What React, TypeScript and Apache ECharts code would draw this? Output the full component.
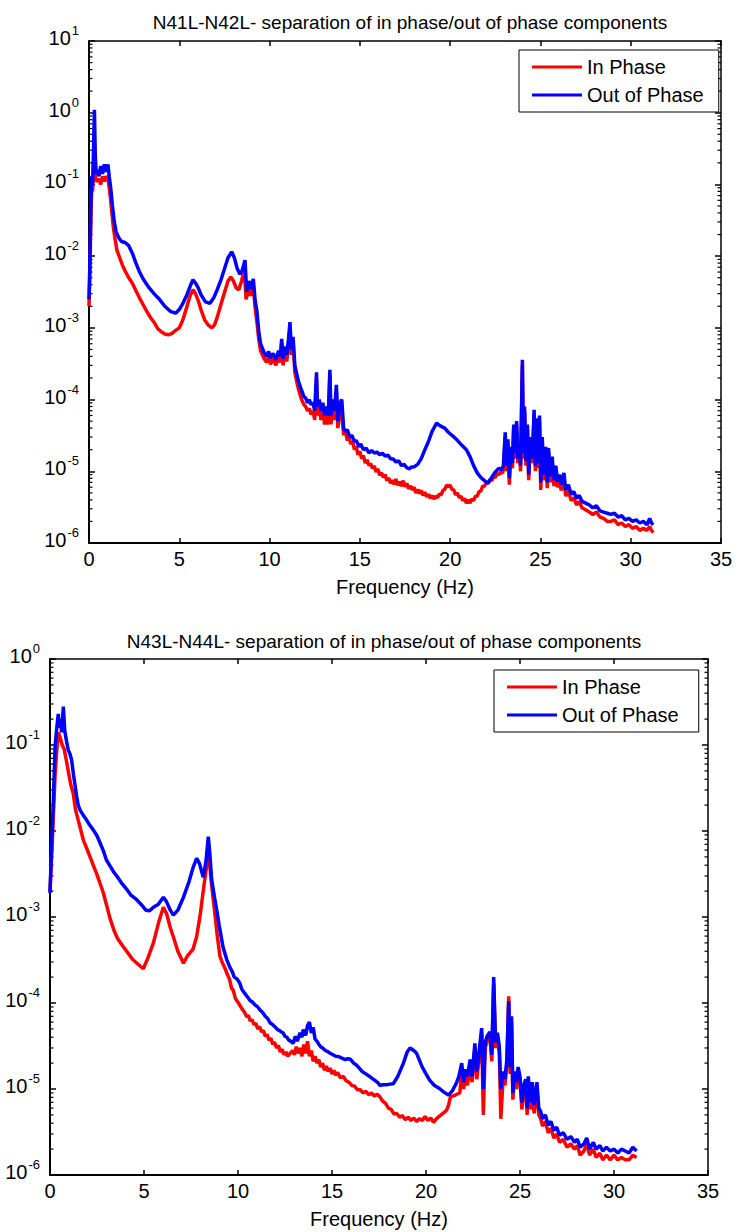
import React, { useEffect, useRef } from "react";
import * as echarts from "echarts";

const FONT = "'Liberation Sans', Arial, Helvetica, sans-serif";

const topTitle = "N41L-N42L- separation of in phase/out of phase components";
const bottomTitle = "N43L-N44L- separation of in phase/out of phase components";
const xAxisName = "Frequency (Hz)";
const seriesNames = ["In Phase", "Out of Phase"];
const seriesColors = ["#ff0000", "#0000ff"];
const xMin = 0;
const xMax = 35;
const xStep = 5;
const topYMin = 1e-6;
const topYMax = 1e1;
const bottomYMin = 1e-6;
const bottomYMax = 1e0;

// Top chart, In Phase (red): [frequency Hz, amplitude]
const topInPhase: [number, number][] = [
  [0.0, 2e-3], [0.05, 6e-3], [0.1, 0.03], [0.15, 0.09], [0.2, 0.08], [0.25, 0.2], [0.3, 0.3],
  [0.35, 0.12], [0.45, 0.11], [0.55, 0.12], [0.65, 0.1], [0.75, 0.13], [0.85, 0.11], [0.95, 0.13],
  [1.05, 0.12], [1.15, 0.08], [1.25, 0.045], [1.35, 0.025], [1.45, 0.017], [1.55, 0.012],
  [1.7, 0.0095], [1.85, 0.0075], [2.0, 0.0062], [2.2, 0.005], [2.4, 0.0042], [2.6, 0.0033],
  [2.8, 0.0026], [3.0, 0.0021], [3.2, 0.0017], [3.4, 0.0014], [3.6, 0.0012], [3.8, 0.00098],
  [4.0, 0.00088], [4.2, 0.00082], [4.4, 0.0008], [4.6, 0.00084], [4.8, 0.00092], [5.0, 0.001],
  [5.2, 0.0013], [5.4, 0.0019], [5.6, 0.0028], [5.76, 0.0034], [5.9, 0.003], [6.05, 0.0024],
  [6.2, 0.0018], [6.4, 0.0013], [6.6, 0.0011], [6.8, 0.001], [6.95, 0.0011], [7.1, 0.0014],
  [7.3, 0.0021], [7.5, 0.0031], [7.7, 0.0045], [7.85, 0.0051], [8.0, 0.0045], [8.15, 0.0036],
  [8.3, 0.0034], [8.45, 0.0045], [8.6, 0.0065], [8.7, 0.0025], [8.85, 0.0035], [8.95, 0.0028],
  [9.1, 0.0038], [9.2, 0.0019], [9.3, 0.0012], [9.4, 0.0007], [9.5, 0.00048], [9.6, 0.00042],
  [9.7, 0.00037], [9.84, 0.00033], [9.95, 0.0004], [10.05, 0.00031], [10.2, 0.00037],
  [10.35, 0.0003], [10.5, 0.0004], [10.6, 0.00033], [10.67, 0.00062], [10.75, 0.0003],
  [10.85, 0.00046], [10.95, 0.00034], [11.05, 0.0006], [11.13, 0.001], [11.2, 0.00042],
  [11.3, 0.00062], [11.4, 0.00024], [11.5, 0.00018], [11.6, 0.00014], [11.77, 0.0001],
  [11.9, 0.000085], [12.0, 0.00008], [12.1, 0.00007], [12.2, 0.000075], [12.3, 0.000062],
  [12.4, 0.00007], [12.5, 0.000052], [12.6, 0.0002], [12.65, 0.00006], [12.75, 0.000075],
  [12.85, 0.000052], [12.95, 0.00007], [13.05, 0.000045], [13.15, 0.00006], [13.25, 0.000045],
  [13.34, 0.00022], [13.4, 0.000045], [13.5, 0.00008], [13.6, 0.000052], [13.7, 0.00013],
  [13.78, 0.00004], [13.9, 0.000065], [14.0, 0.00007], [14.1, 0.000032], [14.2, 0.000036],
  [14.3, 0.000027], [14.4, 0.00003], [14.5, 0.000024], [14.6, 0.000026], [14.7, 0.00002],
  [14.8, 0.000022], [14.9, 0.000017], [15.0, 0.000019], [15.1, 0.000015], [15.2, 0.0000165],
  [15.3, 0.000013], [15.4, 0.0000145], [15.5, 0.000012], [15.6, 0.0000128], [15.7, 0.000011],
  [15.8, 0.0000118], [15.9, 0.0000098], [16.0, 0.0000108], [16.1, 0.0000088], [16.2, 0.0000095],
  [16.3, 0.0000082], [16.4, 0.000009], [16.5, 0.0000074], [16.6, 0.0000081], [16.7, 0.0000068],
  [16.8, 0.0000075], [16.9, 0.0000066], [17.0, 0.0000078], [17.1, 0.0000064], [17.2, 0.0000072],
  [17.3, 0.0000062], [17.4, 0.0000074], [17.5, 0.0000061], [17.6, 0.0000068], [17.7, 0.0000057],
  [17.8, 0.0000063], [17.9, 0.0000055], [18.0, 0.000006], [18.1, 0.000005], [18.2, 0.0000056],
  [18.3, 0.0000049], [18.4, 0.0000054], [18.5, 0.0000046], [18.6, 0.0000051], [18.7, 0.0000044],
  [18.8, 0.0000048], [18.9, 0.0000042], [19.0, 0.0000046], [19.1, 0.0000041], [19.2, 0.0000045],
  [19.3, 0.0000043], [19.4, 0.0000048], [19.5, 0.0000047], [19.6, 0.0000054], [19.7, 0.0000056],
  [19.8, 0.0000064], [19.9, 0.0000061], [20.0, 0.0000064], [20.1, 0.0000056], [20.2, 0.0000055],
  [20.3, 0.0000047], [20.4, 0.000005], [20.5, 0.0000043], [20.6, 0.0000045], [20.7, 0.0000039],
  [20.8, 0.0000042], [20.9, 0.0000036], [21.0, 0.000004], [21.1, 0.0000036], [21.2, 0.0000041],
  [21.3, 0.0000039], [21.4, 0.0000045], [21.5, 0.0000045], [21.6, 0.0000052], [21.7, 0.0000053],
  [21.8, 0.0000062], [21.9, 0.0000062], [22.0, 0.000007], [22.1, 0.0000068], [22.2, 0.0000077],
  [22.3, 0.0000074], [22.4, 0.0000084], [22.5, 0.0000082], [22.6, 0.0000092], [22.7, 0.000009],
  [22.8, 0.0000098], [22.9, 0.0000094], [22.95, 0.000011],
  [23.05, 0.00003], [23.12, 0.00001], [23.2, 0.000024], [23.28, 0.0000065], [23.36, 0.000019],
  [23.45, 0.000011], [23.52, 0.00004], [23.6, 0.000015], [23.68, 0.000044], [23.75, 0.000013],
  [23.83, 0.000021], [23.9, 0.00001], [24.0, 0.0003], [24.06, 0.000015], [24.12, 0.00007],
  [24.2, 0.000012], [24.28, 0.000039], [24.35, 0.0000075], [24.45, 0.000026], [24.55, 0.000013],
  [24.65, 0.000062], [24.72, 0.00001], [24.8, 0.000047], [24.87, 0.000011], [24.95, 0.00005],
  [25.02, 0.0000055], [25.1, 0.000026], [25.18, 0.0000075], [25.3, 0.000019], [25.38, 0.0000058],
  [25.45, 0.000018], [25.55, 0.000007], [25.65, 0.000013], [25.75, 0.0000062], [25.85, 0.00001],
  [25.95, 0.000006], [26.05, 0.0000075], [26.15, 0.0000054], [26.3, 0.000008], [26.4, 0.0000045],
  [26.55, 0.0000053], [26.7, 0.0000039], [26.85, 0.0000043], [27.0, 0.0000034], [27.15, 0.0000038],
  [27.3, 0.0000031], [27.5, 0.0000029], [27.7, 0.0000027], [27.9, 0.0000025], [28.1, 0.0000027],
  [28.3, 0.0000023], [28.5, 0.0000022], [28.7, 0.000002], [28.9, 0.000002], [29.1, 0.0000021],
  [29.3, 0.0000018], [29.5, 0.0000019], [29.7, 0.0000017], [29.9, 0.0000018], [30.1, 0.0000016],
  [30.3, 0.0000017], [30.5, 0.0000015], [30.7, 0.0000016], [30.9, 0.0000015], [31.05, 0.0000017],
  [31.15, 0.0000015], [31.25, 0.0000014],
];

// Top chart, Out of Phase (blue)
const topOutPhase: [number, number][] = [
  [0.0, 2.5e-3], [0.05, 8e-3], [0.1, 0.05], [0.15, 0.13], [0.2, 0.1], [0.25, 0.3], [0.3, 1.1],
  [0.35, 0.25], [0.4, 0.14], [0.45, 0.16], [0.55, 0.13], [0.65, 0.18], [0.75, 0.14], [0.85, 0.19],
  [0.95, 0.15], [1.05, 0.19], [1.12, 0.13], [1.2, 0.09], [1.3, 0.05], [1.4, 0.03], [1.5, 0.022],
  [1.65, 0.018], [1.8, 0.016], [2.0, 0.0155], [2.2, 0.014], [2.4, 0.011], [2.6, 0.008],
  [2.8, 0.006], [3.0, 0.0048], [3.3, 0.0037], [3.6, 0.003], [3.9, 0.0025], [4.2, 0.002],
  [4.5, 0.0017], [4.8, 0.0016], [5.0, 0.0018], [5.2, 0.0022], [5.4, 0.0028], [5.6, 0.0038],
  [5.76, 0.0047], [5.9, 0.0042], [6.05, 0.0036], [6.2, 0.0029], [6.45, 0.0023], [6.7, 0.0022],
  [6.9, 0.0026], [7.1, 0.0034], [7.3, 0.0046], [7.5, 0.0066], [7.7, 0.0095], [7.9, 0.0115],
  [8.05, 0.0095], [8.2, 0.0068], [8.36, 0.0056], [8.5, 0.0065], [8.64, 0.0088], [8.73, 0.0032],
  [8.85, 0.0045], [8.95, 0.0035], [9.1, 0.0048], [9.2, 0.0024], [9.3, 0.0017], [9.4, 0.0009],
  [9.5, 0.0006], [9.6, 0.00052], [9.7, 0.00045], [9.84, 0.0004], [9.95, 0.00047], [10.05, 0.00038],
  [10.2, 0.00044], [10.35, 0.00036], [10.5, 0.00048], [10.6, 0.0004], [10.67, 0.0007],
  [10.75, 0.00037], [10.85, 0.00055], [10.95, 0.00042], [11.05, 0.0007], [11.13, 0.0012],
  [11.2, 0.0005], [11.3, 0.00075], [11.4, 0.0003], [11.5, 0.00023], [11.6, 0.00018],
  [11.77, 0.000135], [11.9, 0.00011], [12.0, 0.000105], [12.1, 0.00009], [12.2, 0.0001],
  [12.3, 0.000085], [12.4, 0.00009], [12.5, 0.00007], [12.6, 0.00024], [12.65, 0.00008],
  [12.75, 0.0001], [12.85, 0.00007], [12.95, 0.00009], [13.05, 0.00006], [13.15, 0.00008],
  [13.25, 0.00006], [13.34, 0.00026], [13.4, 0.00006], [13.5, 0.0001], [13.6, 0.00007],
  [13.7, 0.00016], [13.78, 0.00005], [13.9, 0.00009], [14.0, 0.0001], [14.1, 0.00004],
  [14.2, 0.000036], [14.3, 0.000038], [14.45, 0.00003], [14.55, 0.000032], [14.7, 0.000026],
  [14.8, 0.000027], [14.95, 0.000022], [15.05, 0.000024], [15.2, 0.00002], [15.35, 0.000021],
  [15.5, 0.000018], [15.65, 0.0000195], [15.8, 0.000018], [15.95, 0.0000185], [16.1, 0.000017],
  [16.25, 0.0000178], [16.4, 0.0000163], [16.55, 0.0000168], [16.7, 0.000015], [16.85, 0.0000148],
  [17.0, 0.0000135], [17.15, 0.000014], [17.3, 0.000012], [17.45, 0.0000125], [17.6, 0.0000112],
  [17.75, 0.0000108], [17.85, 0.0000115],
  [18.0, 0.0000115], [18.2, 0.0000125], [18.4, 0.000015], [18.6, 0.00002], [18.8, 0.000026],
  [19.0, 0.000036], [19.25, 0.000047], [19.45, 0.000043], [19.7, 0.00004], [19.9, 0.000035],
  [20.15, 0.000031], [20.4, 0.000027], [20.65, 0.000023], [20.9, 0.00002], [21.1, 0.000016],
  [21.3, 0.000012], [21.5, 0.0000095], [21.7, 0.0000082], [21.9, 0.0000074], [22.1, 0.0000068],
  [22.3, 0.0000082], [22.5, 0.0000098], [22.7, 0.000011], [22.85, 0.0000105], [22.95, 0.000012],
  [23.05, 0.000035], [23.12, 0.000012], [23.2, 0.000028], [23.28, 0.000008], [23.36, 0.000022],
  [23.45, 0.000013], [23.52, 0.000045], [23.6, 0.000018], [23.68, 0.00005], [23.75, 0.000015],
  [23.83, 0.000025], [23.9, 0.000012], [24.0, 0.00036], [24.06, 0.000018], [24.12, 0.00008],
  [24.2, 0.000014], [24.28, 0.000045], [24.35, 0.000009], [24.45, 0.00003], [24.55, 0.000015],
  [24.65, 0.000072], [24.72, 0.000012], [24.8, 0.000055], [24.87, 0.000013], [24.95, 0.00006],
  [25.02, 0.000007], [25.1, 0.00003], [25.18, 0.000009], [25.3, 0.000022], [25.38, 0.000007],
  [25.45, 0.000021], [25.55, 0.0000085], [25.65, 0.000016], [25.75, 0.0000075], [25.85, 0.000012],
  [25.95, 0.0000072], [26.05, 0.000009], [26.15, 0.0000065], [26.3, 0.0000095], [26.4, 0.0000055],
  [26.55, 0.0000065], [26.7, 0.0000048], [26.85, 0.0000052], [27.0, 0.0000042], [27.15, 0.0000046],
  [27.3, 0.0000038], [27.5, 0.0000036], [27.7, 0.0000034], [27.9, 0.0000031], [28.1, 0.0000033],
  [28.3, 0.0000028], [28.5, 0.0000027], [28.7, 0.0000026], [28.9, 0.0000025], [29.1, 0.0000026],
  [29.3, 0.0000023], [29.5, 0.0000024], [29.7, 0.0000021], [29.9, 0.0000022], [30.1, 0.000002],
  [30.3, 0.0000021], [30.5, 0.0000019], [30.7, 0.000002], [30.9, 0.0000018], [31.05, 0.0000022],
  [31.15, 0.0000019], [31.25, 0.0000018],
];

// Bottom chart, In Phase (red)
const bottomInPhase: [number, number][] = [
  [0.0, 2e-3], [0.1, 0.006], [0.18, 0.015], [0.27, 0.045], [0.35, 0.08], [0.44, 0.14],
  [0.55, 0.12], [0.65, 0.1], [0.75, 0.09], [0.85, 0.07], [0.97, 0.05], [1.1, 0.035],
  [1.24, 0.027], [1.35, 0.018], [1.5, 0.0134], [1.65, 0.01], [1.77, 0.0079], [1.95, 0.0063],
  [2.13, 0.005], [2.3, 0.004], [2.48, 0.0032], [2.65, 0.0025], [2.84, 0.0019], [3.0, 0.0014],
  [3.2, 0.00095], [3.4, 0.0007], [3.6, 0.00056], [3.9, 0.00045], [4.15, 0.00038], [4.4, 0.00032],
  [4.7, 0.00028], [4.96, 0.00025], [5.2, 0.00033], [5.5, 0.0005], [5.8, 0.0009], [6.03, 0.0013],
  [6.2, 0.0011], [6.4, 0.00075], [6.56, 0.00059], [6.8, 0.0004], [7.1, 0.00029], [7.3, 0.00035],
  [7.6, 0.00042], [7.8, 0.00059], [8.0, 0.0011], [8.15, 0.002], [8.33, 0.0039], [8.42, 0.0065],
  [8.5, 0.004], [8.6, 0.0023], [8.75, 0.0012], [8.9, 0.0006], [9.04, 0.00035], [9.15, 0.0003],
  [9.25, 0.00027], [9.35, 0.00024], [9.45, 0.00021], [9.55, 0.00019], [9.65, 0.00015],
  [9.75, 0.00014], [9.85, 0.000115], [9.93, 0.000107], [10.05, 0.000098], [10.15, 0.00009],
  [10.25, 0.000083], [10.35, 0.000078], [10.46, 0.000069], [10.55, 0.000072], [10.65, 0.000062],
  [10.75, 0.000064], [10.85, 0.000056], [10.95, 0.000058], [11.05, 0.00005], [11.15, 0.000053],
  [11.25, 0.000046], [11.35, 0.000048], [11.45, 0.000041], [11.55, 0.000043], [11.65, 0.000037],
  [11.75, 0.000039], [11.85, 0.000033], [11.95, 0.000035], [12.05, 0.00003], [12.15, 0.000032],
  [12.25, 0.000027], [12.35, 0.000029], [12.45, 0.000025], [12.55, 0.000027], [12.65, 0.000024],
  [12.77, 0.000026], [12.9, 0.000028], [13.0, 0.000025], [13.1, 0.000031], [13.2, 0.000026],
  [13.3, 0.00003], [13.4, 0.000024], [13.5, 0.000033], [13.6, 0.000026], [13.7, 0.000036],
  [13.8, 0.000024], [13.9, 0.000028], [14.0, 0.000021], [14.1, 0.000024], [14.2, 0.00002],
  [14.3, 0.000022], [14.4, 0.000018], [14.5, 0.00002], [14.6, 0.0000165], [14.7, 0.0000185],
  [14.8, 0.000016], [14.9, 0.0000175], [15.0, 0.000015], [15.1, 0.0000165], [15.2, 0.0000145],
  [15.3, 0.0000155], [15.45, 0.0000135], [15.6, 0.000014], [15.75, 0.0000125], [15.9, 0.000012],
  [16.05, 0.000011], [16.2, 0.0000108], [16.35, 0.0000098], [16.5, 0.0000098], [16.65, 0.000009],
  [16.8, 0.0000094], [16.95, 0.0000086], [17.1, 0.000009], [17.25, 0.0000083], [17.4, 0.0000087],
  [17.55, 0.0000081], [17.7, 0.0000072], [17.85, 0.0000068], [18.0, 0.000006], [18.15, 0.0000058],
  [18.3, 0.0000051], [18.45, 0.0000052], [18.6, 0.0000047], [18.75, 0.0000049], [18.9, 0.0000044],
  [19.05, 0.0000047], [19.2, 0.0000043], [19.35, 0.0000046], [19.5, 0.0000042], [19.65, 0.0000045],
  [19.8, 0.0000043], [19.95, 0.0000048], [20.1, 0.0000043], [20.25, 0.0000046], [20.4, 0.0000041],
  [20.55, 0.0000045], [20.7, 0.0000048], [20.85, 0.0000051], [20.95, 0.0000053], [21.1, 0.0000057],
  [21.2, 0.0000065], [21.3, 0.0000081], [21.45, 0.0000083], [21.55, 0.0000085], [21.7, 0.0000088],
  [21.8, 0.000009], [21.9, 0.000016],
  [22.0, 0.00001], [22.1, 0.000014], [22.2, 0.000011], [22.35, 0.000019], [22.45, 0.000012],
  [22.6, 0.00003], [22.7, 0.000013], [22.8, 0.00002], [22.96, 0.000045], [23.05, 0.000005],
  [23.15, 0.00003], [23.25, 0.000036], [23.4, 0.00004], [23.5, 0.000021], [23.6, 0.00017],
  [23.7, 0.00003], [23.8, 0.000038], [23.9, 0.000026], [23.98, 0.0000045], [24.1, 0.000013],
  [24.2, 0.000011], [24.3, 0.000019], [24.4, 0.00012], [24.48, 0.000015], [24.55, 0.00006],
  [24.62, 0.0000075], [24.7, 0.000013], [24.8, 0.00001], [24.9, 0.000015], [25.0, 0.000012],
  [25.1, 0.0000058], [25.2, 0.0000092], [25.3, 0.000011], [25.38, 0.000005], [25.44, 0.000012],
  [25.55, 0.0000058], [25.65, 0.00001], [25.75, 0.0000052], [25.9, 0.00001], [26.0, 0.000005],
  [26.1, 0.0000045], [26.2, 0.0000037], [26.35, 0.0000042], [26.5, 0.0000031], [26.65, 0.0000035],
  [26.8, 0.0000027], [26.95, 0.000003], [27.1, 0.0000024], [27.3, 0.0000026], [27.5, 0.0000021],
  [27.7, 0.0000023], [27.9, 0.000002], [28.05, 0.0000022], [28.2, 0.0000017], [28.4, 0.0000019],
  [28.55, 0.0000023], [28.7, 0.0000017], [28.9, 0.000002], [29.05, 0.0000016], [29.25, 0.0000018],
  [29.4, 0.0000015], [29.6, 0.0000017], [29.8, 0.0000015], [30.0, 0.0000017], [30.2, 0.0000015],
  [30.4, 0.0000016], [30.6, 0.0000015], [30.8, 0.0000015], [31.0, 0.0000017], [31.2, 0.0000016],
];

// Bottom chart, Out of Phase (blue)
const bottomOutPhase: [number, number][] = [
  [0.0, 1.9e-3], [0.1, 0.008], [0.18, 0.023], [0.27, 0.095], [0.35, 0.15], [0.44, 0.23],
  [0.5, 0.16], [0.55, 0.2], [0.62, 0.14], [0.71, 0.28], [0.78, 0.15], [0.85, 0.12], [0.97, 0.087],
  [1.05, 0.08], [1.15, 0.067], [1.25, 0.045], [1.35, 0.032], [1.42, 0.025], [1.5, 0.02],
  [1.6, 0.0175], [1.75, 0.0155], [1.95, 0.0134], [2.1, 0.0118], [2.3, 0.0103], [2.5, 0.0088],
  [2.66, 0.0073], [2.85, 0.0058], [3.0, 0.0046], [3.2, 0.0039], [3.4, 0.0033], [3.55, 0.003],
  [3.8, 0.0025], [4.08, 0.0021], [4.3, 0.0018], [4.6, 0.0016], [4.85, 0.0014], [5.1, 0.0012],
  [5.3, 0.00118], [5.5, 0.0013], [5.75, 0.0014], [6.03, 0.0017], [6.2, 0.0015], [6.4, 0.0012],
  [6.56, 0.00105], [6.8, 0.0012], [7.1, 0.0017], [7.4, 0.0026], [7.6, 0.0037], [7.8, 0.0048],
  [7.95, 0.0042], [8.15, 0.0029], [8.3, 0.0045], [8.42, 0.0086], [8.5, 0.0055], [8.6, 0.0027],
  [8.75, 0.0017], [8.87, 0.0012], [9.0, 0.0008], [9.2, 0.00045], [9.4, 0.00032], [9.57, 0.00026],
  [9.7, 0.00023], [9.8, 0.0002], [9.95, 0.00019], [10.1, 0.00017], [10.2, 0.000145],
  [10.35, 0.00013], [10.5, 0.000118], [10.64, 0.000107], [10.78, 0.000102], [10.9, 0.000095],
  [11.05, 0.00009], [11.17, 0.000083], [11.3, 0.000078], [11.45, 0.00007], [11.58, 0.000066],
  [11.7, 0.000059], [11.85, 0.000056], [12.0, 0.000052], [12.1, 0.000049], [12.2, 0.000048],
  [12.3, 0.000046], [12.4, 0.000045], [12.5, 0.000041], [12.6, 0.00004], [12.7, 0.000037],
  [12.8, 0.000036], [12.94, 0.000034], [13.05, 0.000041], [13.15, 0.000036], [13.3, 0.000045],
  [13.4, 0.00004], [13.47, 0.000049], [13.6, 0.000042], [13.7, 0.000055], [13.8, 0.00006],
  [13.9, 0.000045], [14.0, 0.000052], [14.1, 0.000038], [14.2, 0.000036], [14.3, 0.000033],
  [14.4, 0.000031], [14.5, 0.00003], [14.65, 0.000028], [14.8, 0.000027], [14.9, 0.000026],
  [15.05, 0.000025], [15.2, 0.000024], [15.35, 0.0000238], [15.5, 0.000023], [15.7, 0.000022],
  [15.85, 0.0000225], [16.0, 0.000022], [16.15, 0.00002], [16.3, 0.000019], [16.45, 0.0000175],
  [16.6, 0.000016], [16.8, 0.000015], [17.0, 0.000014], [17.15, 0.0000132], [17.3, 0.0000125],
  [17.45, 0.0000118], [17.55, 0.000011], [17.7, 0.0000112], [17.9, 0.0000112], [18.1, 0.0000114],
  [18.26, 0.0000115], [18.5, 0.000014], [18.8, 0.00002], [19.0, 0.000027], [19.15, 0.00003],
  [19.35, 0.000028], [19.5, 0.000026], [19.8, 0.000018], [20.0, 0.000015], [20.2, 0.0000126],
  [20.45, 0.000011], [20.7, 0.0000102], [20.95, 0.0000092], [21.2, 0.0000085], [21.4, 0.0000095],
  [21.6, 0.0000115], [21.75, 0.000014], [21.9, 0.00002], [22.0, 0.000012], [22.1, 0.000017],
  [22.2, 0.000014], [22.35, 0.000022], [22.45, 0.000014], [22.6, 0.000034], [22.7, 0.000016],
  [22.8, 0.000024], [22.96, 0.000051], [23.05, 0.00001], [23.15, 0.000035], [23.25, 0.000041],
  [23.4, 0.000046], [23.5, 0.000025], [23.6, 0.0002], [23.7, 0.000035], [23.8, 0.000045],
  [23.9, 0.000031], [23.98, 0.00001], [24.1, 0.000016], [24.2, 0.000013], [24.3, 0.000022],
  [24.4, 0.000105], [24.48, 0.000018], [24.55, 0.00007], [24.62, 0.000009], [24.7, 0.000016],
  [24.8, 0.000012], [24.9, 0.000018], [25.0, 0.000014], [25.1, 0.000007], [25.2, 0.000011],
  [25.3, 0.000013], [25.38, 0.000006], [25.44, 0.000014], [25.55, 0.000007], [25.65, 0.000012],
  [25.75, 0.0000065], [25.9, 0.000012], [26.0, 0.000006], [26.1, 0.0000055], [26.2, 0.0000045],
  [26.35, 0.000005], [26.5, 0.0000038], [26.65, 0.0000042], [26.8, 0.0000033], [26.95, 0.0000036],
  [27.1, 0.0000029], [27.3, 0.0000031], [27.5, 0.0000026], [27.7, 0.0000028], [27.9, 0.0000024],
  [28.05, 0.0000026], [28.2, 0.0000021], [28.4, 0.0000023], [28.55, 0.0000027], [28.7, 0.000002],
  [28.9, 0.0000024], [29.05, 0.000002], [29.25, 0.0000022], [29.4, 0.0000019], [29.6, 0.0000021],
  [29.8, 0.0000019], [30.0, 0.000002], [30.2, 0.0000018], [30.4, 0.000002], [30.6, 0.0000019],
  [30.8, 0.0000018], [31.0, 0.0000021], [31.2, 0.0000019],
];

const GRIDS = [
  { left: 89, top: 41, width: 632, height: 502 },
  { left: 50, top: 659, width: 658, height: 516 },
];

const FS = 20;
const labelText = { fontFamily: FONT, fontSize: FS, color: "#000" };

function yLabel(v: number) {
  const e = Math.round(Math.log10(v));
  return `{b|10}{s|${e}}`;
}

function buildPair(gi: number, yMin: number, yMax: number) {
  const xAxes = [
    {
      type: "value", gridIndex: gi, min: xMin, max: xMax, interval: xStep, position: "bottom",
      name: xAxisName, nameLocation: "middle", nameGap: 34,
      nameTextStyle: { ...labelText },
      axisLine: { show: true, onZero: false, lineStyle: { color: "#000", width: 2 } },
      axisTick: { show: true, inside: true, length: 5, lineStyle: { color: "#000", width: 1.5 } },
      axisLabel: { ...labelText, margin: 6 },
      splitLine: { show: false },
    },
    {
      type: "value", gridIndex: gi, min: xMin, max: xMax, interval: xStep, position: "top",
      axisLine: { show: true, onZero: false, lineStyle: { color: "#000", width: 1.5 } },
      axisTick: { show: true, inside: true, length: 5, lineStyle: { color: "#000", width: 1.5 } },
      axisLabel: { show: false },
      splitLine: { show: false },
    },
  ];
  const yAxes = [
    {
      type: "log", gridIndex: gi, min: yMin, max: yMax, logBase: 10, interval: 1, position: "left",
      axisLine: { show: true, onZero: false, lineStyle: { color: "#000", width: 2 } },
      axisTick: { show: true, inside: true, length: 6, lineStyle: { color: "#000", width: 1.5 } },
      axisLabel: {
        formatter: yLabel,
        margin: 10,
        padding: [0, 0, 10, 0],
        rich: {
          b: { fontFamily: FONT, fontSize: FS, color: "#000", lineHeight: 24, verticalAlign: "bottom" },
          s: { fontFamily: FONT, fontSize: 13, color: "#000", lineHeight: 13, verticalAlign: "top", padding: [0, 0, 20, 1] },
        },
      },
      splitLine: { show: false },
    },
    {
      type: "log", gridIndex: gi, min: yMin, max: yMax, logBase: 10, interval: 1, position: "right",
      axisLine: { show: true, onZero: false, lineStyle: { color: "#000", width: 1.5 } },
      axisTick: { show: true, inside: true, length: 6, lineStyle: { color: "#000", width: 1.5 } },
      axisLabel: { show: false },
      splitLine: { show: false },
    },
  ];
  return { xAxes, yAxes };
}

export default function App() {
  const ref = useRef<HTMLDivElement>(null);
  useEffect(() => {
    document.body.style.margin = "0";
    const chart = echarts.init(ref.current!, null, { renderer: "svg" });
    const p1 = buildPair(0, topYMin, topYMax);
    const p2 = buildPair(1, bottomYMin, bottomYMax);
    const seriesFor = (gi: number, data: [number, number][][]) =>
      data.map((d, i) => ({
        type: "line",
        name: seriesNames[i],
        xAxisIndex: gi * 2,
        yAxisIndex: gi * 2,
        data: d,
        showSymbol: false,
        symbol: "none",
        lineStyle: { color: seriesColors[i], width: 3.5 },
        itemStyle: { color: seriesColors[i] },
        z: 2 + i,
      }));
    const legendBase = {
      orient: "vertical",
      data: seriesNames,
      icon: "rect",
      itemWidth: 50,
      itemHeight: 3,
      itemGap: 8,
      borderColor: "#000",
      borderWidth: 1,
      backgroundColor: "#fff",
      selectedMode: false,
      textStyle: { fontFamily: FONT, fontSize: FS, color: "#000", lineHeight: 20 },
    };
    chart.setOption({
      animation: false,
      backgroundColor: "#fff",
      title: [
        { text: topTitle, left: GRIDS[0].left + GRIDS[0].width / 2, top: 8, textAlign: "center",
          textStyle: { fontFamily: FONT, fontSize: 19, fontWeight: "normal", color: "#000" } },
        { text: bottomTitle, left: GRIDS[1].left + GRIDS[1].width / 2, top: 627, textAlign: "center",
          textStyle: { fontFamily: FONT, fontSize: 19, fontWeight: "normal", color: "#000" } },
      ],
      legend: [
        { ...legendBase, left: 519, top: 50, padding: [7, 15, 7, 13] },
        { ...legendBase, left: 494, top: 670, padding: [7, 20, 7, 13] },
      ],
      grid: GRIDS.map((g) => ({ ...g, containLabel: false, outerBoundsMode: "none" })),
      xAxis: [...p1.xAxes, ...p2.xAxes],
      yAxis: [...p1.yAxes, ...p2.yAxes],
      series: [
        ...seriesFor(0, [topInPhase, topOutPhase]),
        ...seriesFor(1, [bottomInPhase, bottomOutPhase]),
      ],
    });

    // minor log ticks on left and right y axes
    const els: any[] = [];
    const ranges = [
      [topYMin, topYMax],
      [bottomYMin, bottomYMax],
    ];
    GRIDS.forEach((g, gi) => {
      const [lo, hi] = ranges[gi];
      for (let e = Math.round(Math.log10(lo)); e < Math.round(Math.log10(hi)); e++) {
        for (let m = 2; m <= 9; m++) {
          const y = chart.convertToPixel({ yAxisIndex: gi * 2 }, m * Math.pow(10, e)) as number;
          els.push({ type: "line", shape: { x1: g.left, y1: y, x2: g.left + 3.5, y2: y }, style: { stroke: "#000", lineWidth: 1.2 }, silent: true });
          els.push({ type: "line", shape: { x1: g.left + g.width - 3.5, y1: y, x2: g.left + g.width, y2: y }, style: { stroke: "#000", lineWidth: 1.2 }, silent: true });
        }
      }
    });
    chart.setOption({ graphic: els });
    return () => chart.dispose();
  }, []);
  return <div ref={ref} style={{ width: 736, height: 1232 }} />;
}
